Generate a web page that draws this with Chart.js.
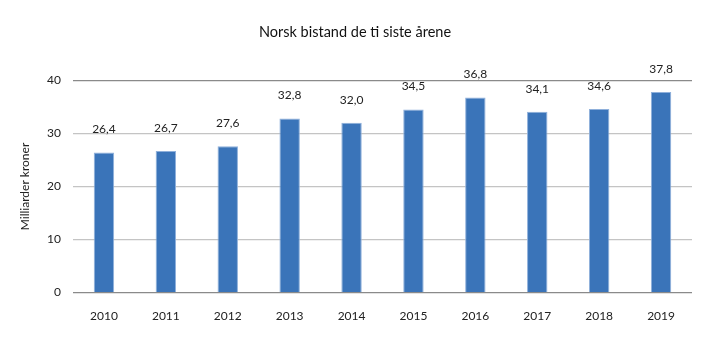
<!DOCTYPE html>
<html>
<head>
<meta charset="utf-8">
<script src="https://cdn.jsdelivr.net/npm/chart.js@4/dist/chart.umd.min.js"></script>
<style>
    html, body { margin: 0; padding: 0; background: #fff; }
    #wrap { width: 720px; height: 341px; position: relative; }
</style>
</head>
<body>
<div id="wrap"><canvas id="myChart"></canvas></div>
<script>
const years = ["2010", "2011", "2012", "2013", "2014", "2015", "2016", "2017", "2018", "2019"];
const bistand = [26.4, 26.7, 27.6, 32.8, 32.0, 34.5, 36.8, 34.1, 34.6, 37.8];
const yTicks = [0, 10, 20, 30, 40];

const fontName = "Lato, 'Open Sans', sans-serif";
const barColor = "#3a74b9";

// labels over the bars, comma as decimal mark
const valueLabels = {
    id: "valueLabels",
    afterDatasetsDraw(chart) {
        let ctx = chart.ctx;
        let meta = chart.getDatasetMeta(0);
        ctx.save();
        ctx.font = "12px " + fontName;
        ctx.fillStyle = "#222";
        ctx.textAlign = "center";
        ctx.textBaseline = "bottom";
        meta.data.forEach((bar, i) => {
            let txt = bistand[i].toFixed(1).replace(".", ",");
            ctx.fillText(txt, bar.x, bar.y - 17);
        });
        ctx.restore();
    },
};

let data = {
    labels: years,
    datasets: [
        {
            label: "Milliarder kroner",
            data: bistand,
            backgroundColor: barColor,
            borderColor: "#8fb0db",
            borderWidth: 1,
            barPercentage: 0.33,
            categoryPercentage: 1,
        },
    ],
};

const options = {
    responsive: false,
    animation: false,
    layout: { padding: { left: 18, right: 28, top: 24, bottom: 10 } },
    plugins: {
        legend: { display: false },
        tooltip: { enabled: false },
        title: {
            display: true,
            text: "Norsk bistand de ti siste årene",
            color: "#111",
            font: { family: fontName, size: 14.5, weight: "normal" },
            padding: { top: 0, bottom: 39 },
        },
    },
    scales: {
        x: {
            grid: { display: false },
            border: { display: false },
            ticks: {
                color: "#222",
                font: { family: fontName, size: 12 },
                padding: 8,
            },
        },
        y: {
            min: 0,
            max: 40,
            afterBuildTicks: (scale) => {
                scale.ticks = yTicks.map((v) => ({ value: v }));
            },
            afterFit: (scale) => {
                scale.width = 55;
            },
            grid: {
                color: (c) => (c.tick.value === 0 || c.tick.value === 40 ? "#8a8a8a" : "#c4c4c4"),
                lineWidth: 1.2,
                drawTicks: false,
            },
            border: { display: false },
            ticks: {
                color: "#222",
                font: { family: fontName, size: 12 },
                padding: 12,
            },
            title: {
                display: true,
                text: "Milliarder kroner",
                color: "#222",
                font: { family: fontName, size: 12 },
                padding: { top: 0, bottom: 4 },
            },
        },
    },
};

var canvas = document.getElementById("myChart");
canvas.width = 720;
canvas.height = 341;
var ctx = canvas.getContext("2d");
var myChart = new Chart(ctx, {
    type: "bar",
    data: data,
    options: options,
    plugins: [valueLabels],
});
</script>
</body>
</html>
